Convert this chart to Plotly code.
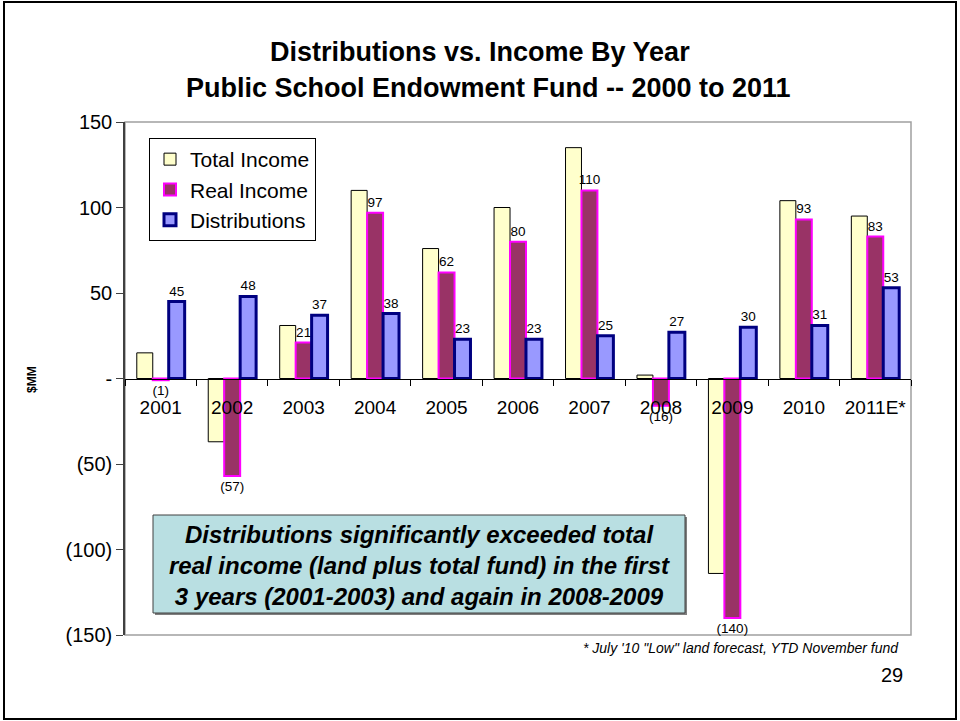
import plotly.graph_objects as go

years = ["2001", "2002", "2003", "2004", "2005", "2006", "2007", "2008", "2009", "2010", "2011E*"]
total_income = [15, -37, 31, 110, 76, 100, 135, 2, -114, 104, 95]
real_income = [-1, -57, 21, 97, 62, 80, 110, -16, -140, 93, 83]
distributions = [45, 48, 37, 38, 23, 23, 25, 27, 30, 31, 53]

y_tickvals = [-150, -100, -50, 0, 50, 100, 150]
y_ticktext = ["(150)", "(100)", "(50)", "-", "50", "100", "150"]


def fmt(v):
    return f"({abs(v)})" if v < 0 else str(v)


FONT = "Arial, Liberation Sans, sans-serif"
W, H = 960, 721
ML, MR, MT, MB = 125, 49, 122, 86
PW, PH = W - ML - MR, H - MT - MB


def px(x):
    return (x - ML) / PW


def py(y):
    return (H - MB - y) / PH


fig = go.Figure()
fig.add_trace(go.Bar(
    name="Total Income", x=years, y=total_income,
    marker=dict(color="#FFFFCC", line=dict(color="#000000", width=1)),
))
fig.add_trace(go.Bar(
    name="Real Income", x=years, y=real_income,
    marker=dict(color="#993366", line=dict(color="#FF00FF", width=2)),
    text=[fmt(v) for v in real_income], textposition="outside",
    textfont=dict(size=13.5, color="#000000", family=FONT),
    constraintext="none", cliponaxis=False,
))
fig.add_trace(go.Bar(
    name="Distributions", x=years, y=distributions,
    marker=dict(color="#9999FF", line=dict(color="#000080", width=3)),
    text=[fmt(v) for v in distributions], textposition="outside",
    textfont=dict(size=13.5, color="#000000", family=FONT),
    constraintext="none", cliponaxis=False,
))

fig.update_layout(
    width=W, height=H,
    margin=dict(l=ML, r=MR, t=MT, b=MB),
    paper_bgcolor="white", plot_bgcolor="white",
    font=dict(family=FONT, color="#000000"),
    barmode="group", bargap=0.33, bargroupgap=0,
    showlegend=True,
    legend=dict(
        x=px(149), y=py(138), xanchor="left", yanchor="top",
        bgcolor="white", bordercolor="#000000", borderwidth=1,
        font=dict(size=21, family=FONT), itemwidth=30,
        tracegroupgap=0,
    ),
    xaxis=dict(
        anchor="free", position=0.5,
        showline=True, linecolor="#000000", linewidth=1,
        ticks="outside", tickson="boundaries", ticklen=6, tickcolor="#000000",
        tickfont=dict(size=19, family=FONT), showgrid=False, tickangle=0,
        ticklabelstandoff=12,
    ),
    yaxis=dict(
        range=[-150, 150], tickvals=y_tickvals, ticktext=y_ticktext,
        showline=True, linecolor="#404040", linewidth=1.5,
        ticks="outside", ticklen=7, tickcolor="#404040",
        tickfont=dict(size=20, family=FONT), showgrid=False, zeroline=False,
    ),
    shapes=[
        dict(type="rect", xref="paper", yref="paper", x0=0, y0=0, x1=1, y1=1,
             line=dict(color="#A0A0A0", width=1.5), layer="below"),
        dict(type="rect", xref="paper", yref="paper",
             x0=px(4), y0=py(719), x1=px(956), y1=py(2),
             line=dict(color="#000000", width=2)),
        dict(type="rect", xref="paper", yref="paper",
             x0=px(155), y0=py(615), x1=px(687), y1=py(517),
             fillcolor="#7F7F7F", line=dict(width=0), layer="above"),
        dict(type="rect", xref="paper", yref="paper",
             x0=px(153), y0=py(613), x1=px(685), y1=py(515),
             fillcolor="#B9DFE2", line=dict(color="#404040", width=1), layer="above"),
    ],
    annotations=[
        dict(text="<b>Distributions vs. Income By Year</b>", xref="paper", yref="paper",
             x=px(480), y=py(52), xanchor="center", yanchor="middle", showarrow=False,
             font=dict(size=27, family=FONT)),
        dict(text="<b>Public School Endowment Fund -- 2000 to 2011</b>", xref="paper", yref="paper",
             x=px(488), y=py(88), xanchor="center", yanchor="middle", showarrow=False,
             font=dict(size=27, family=FONT)),
        dict(text="<b>$MM</b>", xref="paper", yref="paper", x=px(32), y=py(380),
             xanchor="center", yanchor="middle", textangle=-90, showarrow=False,
             font=dict(size=12, family=FONT)),
        dict(text="<b><i>Distributions significantly exceeded total<br>real income (land plus total fund) in the first<br>3 years (2001-2003) and again in 2008-2009</i></b>",
             xref="paper", yref="paper", x=px(419), y=py(565),
             xanchor="center", yanchor="middle", showarrow=False, align="center",
             font=dict(size=24, family=FONT)),
        dict(text="<i>* July '10 \"Low\" land forecast, YTD November fund</i>", xref="paper", yref="paper",
             x=px(901), y=py(648), xanchor="right", yanchor="middle", showarrow=False,
             font=dict(size=14, family=FONT)),
        dict(text="29", xref="paper", yref="paper",
             x=px(905), y=py(675), xanchor="right", yanchor="middle", showarrow=False,
             font=dict(size=20, family=FONT)),
    ],
)

fig.write_html("out.html")
